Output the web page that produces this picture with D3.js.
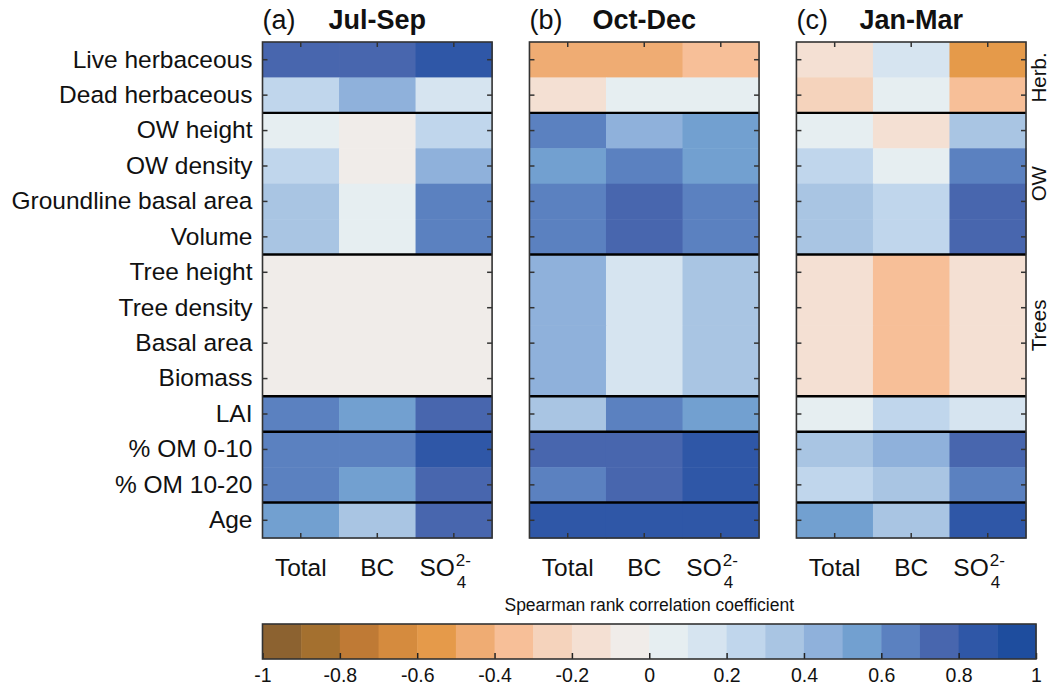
<!DOCTYPE html>
<html>
<head>
<meta charset="utf-8">
<script src="https://cdn.jsdelivr.net/npm/d3@7"></script>
<style>
	body { margin: 0; background: #fff; }
	text { font-family: "Liberation Sans", Arial, Helvetica, sans-serif; fill: #111; }
</style>
</head>
<body>
<svg id="chart"></svg>
<script>

// Rows, columns, panels
var rowLabels = ["Live herbaceous", "Dead herbaceous", "OW height", "OW density",
	"Groundline basal area", "Volume", "Tree height", "Tree density", "Basal area",
	"Biomass", "LAI", "% OM 0-10", "% OM 10-20", "Age"];
var columnKeys = ["Total", "BC", "SO4"];
var seasons = ["Jul-Sep", "Oct-Dec", "Jan-Mar"];
var panelTags = ["(a)", "(b)", "(c)"];

// Spearman coefficients, one row per variable: Total, BC, SO4
var julSep = [
	[0.75, 0.75, 0.85],
	[0.25, 0.45, 0.15],
	[0.05, -0.05, 0.25],
	[0.25, -0.05, 0.45],
	[0.35, 0.05, 0.65],
	[0.35, 0.05, 0.65],
	[-0.05, -0.05, -0.05],
	[-0.05, -0.05, -0.05],
	[-0.05, -0.05, -0.05],
	[-0.05, -0.05, -0.05],
	[0.65, 0.55, 0.75],
	[0.65, 0.65, 0.85],
	[0.65, 0.55, 0.75],
	[0.55, 0.35, 0.75]
];
var octDec = [
	[-0.45, -0.45, -0.35],
	[-0.15, 0.05, 0.05],
	[0.65, 0.45, 0.55],
	[0.55, 0.65, 0.55],
	[0.65, 0.75, 0.65],
	[0.65, 0.75, 0.65],
	[0.45, 0.15, 0.35],
	[0.45, 0.15, 0.35],
	[0.45, 0.15, 0.35],
	[0.45, 0.15, 0.35],
	[0.35, 0.65, 0.55],
	[0.75, 0.75, 0.85],
	[0.65, 0.75, 0.85],
	[0.85, 0.85, 0.85]
];
var janMar = [
	[-0.15, 0.15, -0.55],
	[-0.25, 0.05, -0.35],
	[0.05, -0.15, 0.35],
	[0.25, 0.05, 0.65],
	[0.35, 0.25, 0.75],
	[0.35, 0.25, 0.75],
	[-0.15, -0.35, -0.15],
	[-0.15, -0.35, -0.15],
	[-0.15, -0.35, -0.15],
	[-0.15, -0.35, -0.15],
	[0.05, 0.25, 0.15],
	[0.35, 0.45, 0.75],
	[0.25, 0.35, 0.65],
	[0.55, 0.35, 0.85]
];
var panelData = [julSep, octDec, janMar];

// Variable groups (row index ranges)
var groups = [
	{name: "Herb.", start: 0, end: 2},
	{name: "OW", start: 2, end: 6},
	{name: "Trees", start: 6, end: 10},
	{name: "", start: 10, end: 11},
	{name: "", start: 11, end: 13},
	{name: "", start: 13, end: 14}
];

// Colour bar
var binColors = ["#8c6230", "#a4702f", "#bf7a35", "#d58b3e", "#e59a4a",
	"#efac73", "#f7bf98", "#f5d3bc", "#f4e0d3", "#f0ece9",
	"#e6eef1", "#d6e4f0", "#c0d6ec", "#a9c5e3", "#8fb1db",
	"#72a0d0", "#5b81c0", "#4866ae", "#2f57a7", "#1e4d9e"];
var colorTicks = [-1, -0.8, -0.6, -0.4, -0.2, 0, 0.2, 0.4, 0.6, 0.8, 1];
var colorTitle = "Spearman rank correlation coefficient";

var width = 1052,
	height = 694;

var svg = d3.select("#chart")
	.attr("width", width)
	.attr("height", height);

var panelX = d3.scaleBand().domain(seasons).range([262.5, 1026]).paddingInner(0.14);
var y = d3.scaleBand().domain(d3.range(rowLabels.length)).range([42, 538]);
var color = d3.scaleQuantize().domain([-1, 1]).range(binColors);
var bw = panelX.bandwidth();
var x = d3.scaleBand().domain(columnKeys).range([0, bw]);

seasons.forEach(function(season, p){

	var g = svg.append("g")
		.attr("transform", "translate(" + panelX(season) + ",0)");

	// cells
	var cells = [];
	panelData[p].forEach(function(row, r){
		row.forEach(function(v, c){ cells.push({r: r, c: columnKeys[c], v: v}); });
	});

	g.append("g")
		.selectAll("rect")
		.data(cells)
		.enter()
			.append("rect")
				.attr("x", function(d){ return x(d.c); })
				.attr("y", function(d){ return y(d.r); })
				.attr("width", x.bandwidth() + 0.5)
				.attr("height", y.bandwidth() + 0.5)
				.attr("fill", function(d){ return color(d.v); });

	// group separators
	g.append("g")
		.selectAll("line")
		.data(groups.filter(function(d){ return d.start > 0; }))
		.enter()
			.append("line")
				.attr("x1", 0)
				.attr("x2", bw)
				.attr("y1", function(d){ return y(d.start); })
				.attr("y2", function(d){ return y(d.start); })
				.attr("stroke", "#000")
				.attr("stroke-width", 2.4);

	// inward ticks on all four sides
	var top = g.append("g").attr("transform", "translate(0," + y.range()[0] + ")")
		.call(d3.axisTop(x).tickSize(-5).tickFormat(""));
	var bottom = g.append("g").attr("transform", "translate(0," + y.range()[1] + ")")
		.call(d3.axisBottom(x).tickSize(-5).tickFormat(""));
	var right = g.append("g").attr("transform", "translate(" + bw + ",0)")
		.call(d3.axisRight(y).tickSize(-5).tickFormat(""));
	var left = g.append("g")
		.call(d3.axisLeft(y).tickSize(-5).tickPadding(10)
			.tickFormat(function(i){ return p === 0 ? rowLabels[i] : ""; }));

	[top, bottom, right, left].forEach(function(a){
		a.select(".domain").remove();
		a.selectAll(".tick line").attr("stroke", "#333").attr("stroke-width", 1.5);
	});
	left.selectAll(".tick text")
		.attr("font-size", 24.5)
		.attr("font-family", null)
		.attr("fill", "#222");

	// frame
	g.append("rect")
		.attr("x", 0)
		.attr("y", y.range()[0])
		.attr("width", bw)
		.attr("height", y.range()[1] - y.range()[0])
		.attr("fill", "none")
		.attr("stroke", "#333")
		.attr("stroke-width", 1.6);

	// column labels
	var lab = g.append("g")
		.selectAll("g")
		.data(columnKeys)
		.enter()
			.append("g")
				.attr("transform", function(d){ return "translate(" + (x(d) + x.bandwidth() / 2) + ",576)"; });

	lab.filter(function(d){ return d !== "SO4"; })
		.append("text")
			.attr("text-anchor", "middle")
			.attr("font-size", 24.5)
			.text(function(d){ return d; });

	var so4 = lab.filter(function(d){ return d === "SO4"; });
	so4.append("text").attr("x", 1).attr("text-anchor", "end").attr("font-size", 24.5).text("SO");
	so4.append("text").attr("x", 2).attr("y", -10).attr("font-size", 17).text("2-");
	so4.append("text").attr("x", 3).attr("y", 12).attr("font-size", 17).text("4");

	// titles
	g.append("text")
		.attr("x", 0)
		.attr("y", 29)
		.attr("font-size", 27)
		.text(panelTags[p]);
	g.append("text")
		.attr("x", bw / 2)
		.attr("y", 29)
		.attr("text-anchor", "middle")
		.attr("font-size", 27)
		.attr("font-weight", "bold")
		.text(season);
});

// group names on the right
svg.append("g")
	.selectAll("text")
	.data(groups.filter(function(d){ return d.name; }))
	.enter()
		.append("text")
			.attr("transform", function(d){
				var cy = (y(d.start) + y(d.end - 1) + y.bandwidth()) / 2;
				return "translate(1046," + cy + ") rotate(-90)";
			})
			.attr("text-anchor", "middle")
			.attr("font-size", 20.5)
			.text(function(d){ return d.name; });

// Colour bar
var cx = d3.scaleLinear().domain([-1, 1]).range([262.5, 1036]);
var barTop = 624, barBottom = 659;
var bins = binColors.map(function(c, i){ return {lo: -1 + i * 0.1, hi: -1 + (i + 1) * 0.1, c: c}; });

var bar = svg.append("g");
bar.selectAll("rect")
	.data(bins)
	.enter()
		.append("rect")
			.attr("x", function(d){ return cx(d.lo); })
			.attr("y", barTop)
			.attr("width", function(d){ return cx(d.hi) - cx(d.lo) + 0.5; })
			.attr("height", barBottom - barTop)
			.attr("fill", function(d){ return d.c; });

var barAxis = bar.append("g")
	.attr("transform", "translate(0," + barBottom + ")")
	.call(d3.axisBottom(cx).tickValues(colorTicks).tickSize(-6).tickPadding(9)
		.tickFormat(function(d){ return String(d); }));
barAxis.select(".domain").remove();
barAxis.selectAll(".tick line").attr("stroke", "#222").attr("stroke-width", 1.5);
barAxis.selectAll(".tick text")
	.attr("font-size", 19.5)
	.attr("font-family", null)
	.attr("fill", "#111");

bar.append("rect")
	.attr("x", cx(-1))
	.attr("y", barTop)
	.attr("width", cx(1) - cx(-1))
	.attr("height", barBottom - barTop)
	.attr("fill", "none")
	.attr("stroke", "#333")
	.attr("stroke-width", 1.6);

bar.append("text")
	.attr("x", (cx(-1) + cx(1)) / 2)
	.attr("y", 611)
	.attr("text-anchor", "middle")
	.attr("font-size", 17.5)
	.text(colorTitle);

</script>
</body>
</html>
